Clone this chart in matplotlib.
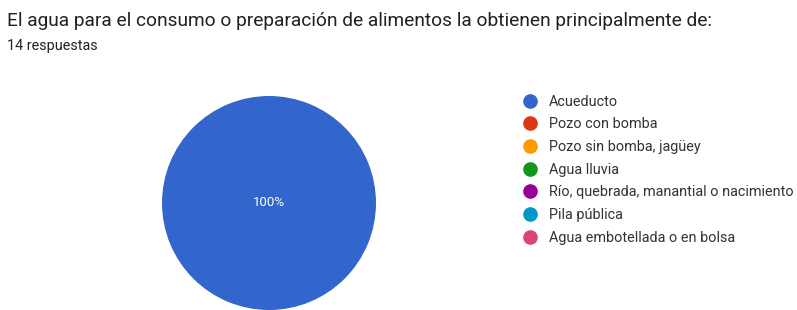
import matplotlib.pyplot as plt
from matplotlib.lines import Line2D

plt.rcParams['font.family'] = ['Roboto', 'DejaVu Sans']

title = "El agua para el consumo o preparación de alimentos la obtienen principalmente de:"
subtitle = "14 respuestas"
categories = ["Acueducto", "Pozo con bomba", "Pozo sin bomba, jagüey", "Agua lluvia",
              "Río, quebrada, manantial o nacimiento", "Pila pública",
              "Agua embotellada o en bolsa"]
counts = [14, 0, 0, 0, 0, 0, 0]
colors = ["#3366CC", "#DC3912", "#FF9900", "#109618", "#990099", "#0099C6", "#DD4477"]

W, H = 797, 310
fig = plt.figure(figsize=(W / 100, H / 100), dpi=100)

# pie axes, square in pixels
cx, cy, r = 269, 203, 107
ax = fig.add_axes([(cx - r) / W, (H - cy - r) / H, 2 * r / W, 2 * r / H])


def pct(p):
    return f"{p:.0f}%" if p > 0 else ""


ax.pie(counts, colors=colors, startangle=90, counterclock=False, radius=1,
       autopct=pct, pctdistance=0.0,
       textprops={'color': 'white', 'fontsize': 9.5})
ax.set_xlim(-1, 1)
ax.set_ylim(-1, 1)
ax.set_aspect('auto')
ax.axis('off')

fig.text(7 / W, 1 - 21 / H, title, fontsize=13.8, color='#202124', va='center')
fig.text(7 / W, 1 - 46 / H, subtitle, fontsize=10.4, color='#202124', va='center')

handles = [Line2D([], [], marker='o', linestyle='', markersize=9.5,
                  markerfacecolor=c, markeredgecolor=c) for c in colors]
fig.legend(handles, categories, loc='upper left',
           bbox_to_anchor=(516 / W, 1 - 89 / H), frameon=False,
           fontsize=10.4, labelcolor='#333333', handletextpad=0.8,
           labelspacing=0.6, handlelength=1.1, borderaxespad=0)

fig.savefig("out.png", dpi=100)
